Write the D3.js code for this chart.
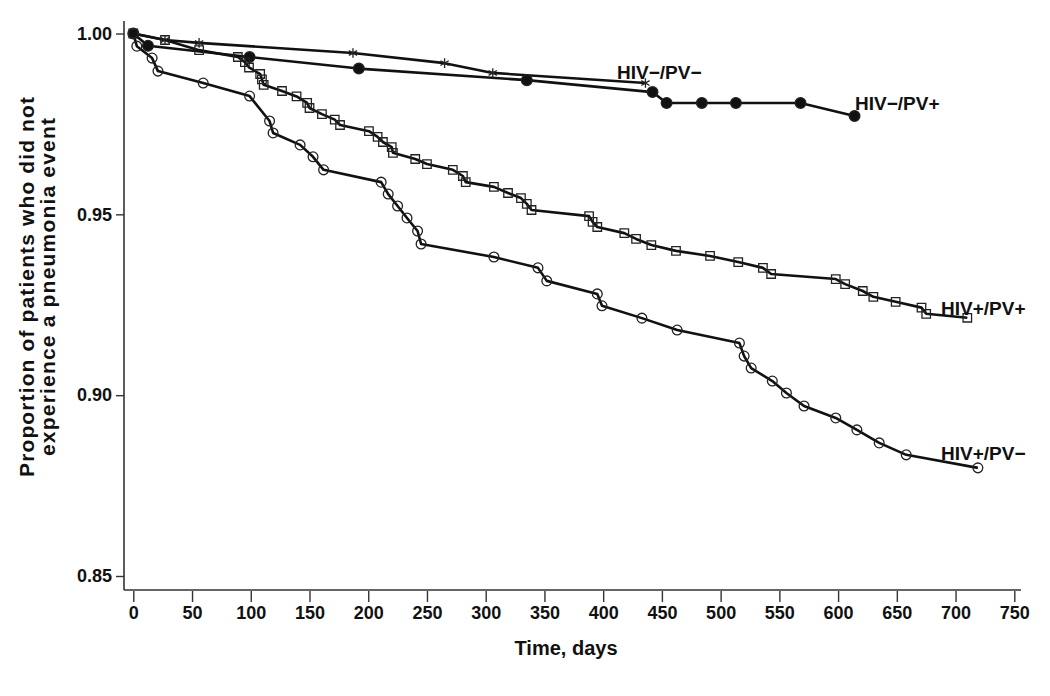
<!DOCTYPE html>
<html>
<head>
<meta charset="utf-8">
<script src="https://cdn.jsdelivr.net/npm/d3@7"></script>
<style>
  html, body { margin: 0; padding: 0; background: #fff; }
  svg { display: block; }
  text { font-family: "Liberation Sans", Arial, Helvetica, sans-serif; font-weight: bold; fill: #111; }
</style>
</head>
<body>
<svg id="chart" width="1050" height="696"></svg>
<script>
// ---- Data ----
const xTicks = [0, 50, 100, 150, 200, 250, 300, 350, 400, 450, 500, 550, 600, 650, 700, 750];
const yTicks = [0.85, 0.90, 0.95, 1.00];

// HIV-/PV- (asterisks)
const negNegDays = [0, 27, 56, 187, 265, 306, 436];
const negNegVals = [1.000, 0.9982, 0.9974, 0.9946, 0.9918, 0.9891, 0.9863];

// HIV-/PV+ (filled circles)
const negPosDays = [0, 12.5, 99, 192, 335, 442, 454, 484, 513, 568, 614];
const negPosVals = [1.000, 0.9966, 0.9935, 0.9903, 0.9871, 0.9838, 0.9808, 0.9808, 0.9808, 0.9808, 0.9772];

// HIV+/PV+ (open squares)
const posPosDays = [0, 27, 56, 89, 95, 98.5, 108, 109.5, 111, 126.6, 139, 148, 150, 160.6, 171.5, 176,
  200.6, 208, 212.5, 220, 221, 240, 250, 272, 280.6, 283, 307, 319, 330, 335, 339, 388, 391, 395,
  418, 428, 441, 462, 491, 515, 536, 543, 598, 606, 621, 630, 649, 671, 675, 710];
const posPosVals = [1.000, 0.9982, 0.9954, 0.9935, 0.9921, 0.9906, 0.9888, 0.9873, 0.9858, 0.9841, 0.9826,
  0.9808, 0.9794, 0.9777, 0.9762, 0.9747, 0.9730, 0.9714, 0.9700, 0.9686, 0.9670, 0.9653, 0.9639,
  0.9623, 0.9606, 0.9589, 0.9576, 0.9559, 0.9545, 0.9529, 0.9512, 0.9495, 0.9479, 0.9465, 0.9448,
  0.9432, 0.9415, 0.9399, 0.9385, 0.9368, 0.9352, 0.9335, 0.9321, 0.9307, 0.9288, 0.9272, 0.9258,
  0.9242, 0.9225, 0.9214];

// HIV+/PV- (open circles)
const posNegDays = [0, 3, 16, 21, 59.5, 99, 116, 119, 142, 153, 162, 211, 217, 225, 233, 242, 245,
  307, 344.5, 352, 395, 399, 433, 463, 516, 520, 526, 544, 556, 571, 598, 616, 635, 658, 719];
const posNegVals = [1.000, 0.9965, 0.9932, 0.9896, 0.9863, 0.9827, 0.9758, 0.9725, 0.9692, 0.9659,
  0.9623, 0.9589, 0.9556, 0.9523, 0.9490, 0.9454, 0.9418, 0.9382, 0.9352, 0.9316, 0.9280, 0.9247,
  0.9213, 0.9180, 0.9144, 0.9108, 0.9075, 0.9039, 0.9006, 0.8970, 0.8937, 0.8904, 0.8868, 0.8835, 0.8799];

const seriesNames = ["HIV−/PV−", "HIV−/PV+", "HIV+/PV+", "HIV+/PV−"];

// ---- Chart ----
const svg = d3.select("#chart");
const x = d3.scaleLinear().domain([0, 750]).range([133.3, 1014.3]);
const y = d3.scaleLinear().domain([0.85, 1.00]).range([576, 33.5]);
const axisY = 590, axisX = 124;

// axes lines
svg.append("line").attr("x1", axisX).attr("x2", axisX).attr("y1", 21).attr("y2", axisY)
  .attr("stroke", "#333").attr("stroke-width", 1.6);
svg.append("line").attr("x1", axisX).attr("x2", 1021).attr("y1", axisY).attr("y2", axisY)
  .attr("stroke", "#333").attr("stroke-width", 1.6);

const gx = svg.append("g").attr("transform", `translate(0,${axisY + 1})`)
  .call(d3.axisBottom(x).tickValues(xTicks).tickFormat(d3.format("d")).tickSize(11).tickPadding(4));
gx.select(".domain").remove();
gx.selectAll(".tick line").attr("stroke", "#333").attr("stroke-width", 1.4);
gx.selectAll(".tick text").attr("font-size", 18).attr("font-family", "Liberation Sans, Arial, sans-serif").attr("font-weight", "bold").attr("fill", "#111");

const gy = svg.append("g").attr("transform", `translate(${axisX},0)`)
  .call(d3.axisLeft(y).tickValues(yTicks).tickFormat(d3.format(".2f")).tickSize(8).tickPadding(4));
gy.select(".domain").remove();
gy.selectAll(".tick line").attr("stroke", "#333").attr("stroke-width", 1.4);
gy.selectAll(".tick text").attr("font-size", 18).attr("font-family", "Liberation Sans, Arial, sans-serif").attr("font-weight", "bold").attr("fill", "#111");

// axis titles
svg.append("text").attr("x", 566).attr("y", 655).attr("text-anchor", "middle")
  .attr("font-size", 20).text("Time, days");
const yt = svg.append("text").attr("transform", "rotate(-90)").attr("text-anchor", "middle").attr("font-size", 21);
yt.append("tspan").attr("x", -287).attr("y", 34).attr("textLength", 380).attr("lengthAdjust", "spacing")
  .text("Proportion of patients who did not");
yt.append("tspan").attr("x", -287).attr("y", 55).attr("textLength", 338).attr("lengthAdjust", "spacing")
  .text("experience a pneumonia event");

const line = d3.line().x(d => x(d[0])).y(d => y(d[1]));
const zip = (a, b) => a.map((d, i) => [d, b[i]]);

const series = [
  { data: zip(negNegDays, negNegVals), sym: d3.symbolAsterisk, fill: "none", size: 64 },
  { data: zip(negPosDays, negPosVals), sym: d3.symbolCircle, fill: "#111", size: 90 },
  { data: zip(posPosDays, posPosVals), sym: d3.symbolSquare, fill: "none", size: 72 },
  { data: zip(posNegDays, posNegVals), sym: d3.symbolCircle, fill: "none", size: 75 }
];

series.forEach(s => {
  svg.append("path").datum(s.data).attr("d", line)
    .attr("fill", "none").attr("stroke", "#111").attr("stroke-width", 2.6).attr("stroke-linejoin", "round");
});
series.forEach(s => {
  svg.append("g").selectAll("path").data(s.data).join("path")
    .attr("transform", d => `translate(${x(d[0])},${y(d[1])})`)
    .attr("d", d3.symbol().type(s.sym).size(s.size))
    .attr("fill", s.fill).attr("stroke", "#222").attr("stroke-width", 1.3);
});

// series labels
const labelPos = [[617, 79], [855, 110], [941, 315], [941, 460]];
seriesNames.forEach((n, i) => {
  svg.append("text").attr("x", labelPos[i][0]).attr("y", labelPos[i][1])
    .attr("font-size", 19).text(n);
});
</script>
</body>
</html>
